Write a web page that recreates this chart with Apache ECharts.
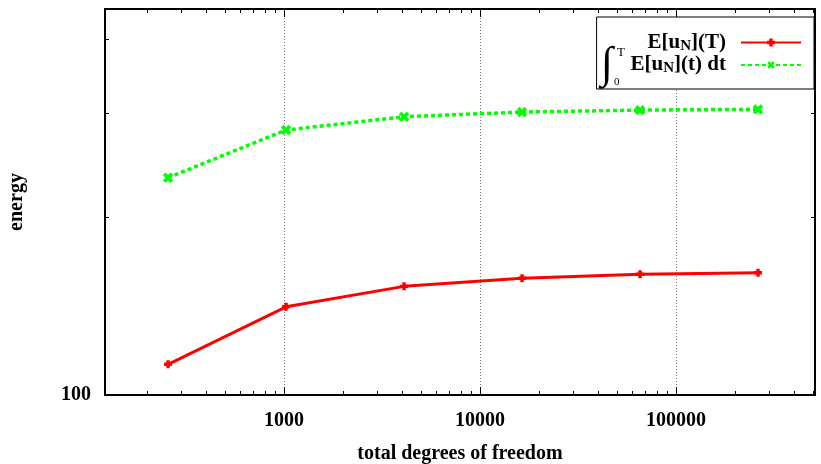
<!DOCTYPE html>
<html>
<head>
<meta charset="utf-8">
<script src="https://cdn.jsdelivr.net/npm/echarts@6/dist/echarts.min.js"></script>
<style>html,body{margin:0;padding:0;background:#fff}#c{width:821px;height:464px}</style>
</head>
<body>
<div id="c"></div>
<script>
// ---- data ----
const dofs = [256, 1024, 4096, 16384, 65536, 262144];
const energyAtT = [112.7, 141.0, 152.7, 157.6, 160.1, 161.0];
const energyIntegral = [233.2, 280.8, 295.7, 301.2, 303.5, 304.4];
const xMajorTicks = [1000, 10000, 100000];
const xMinorTicks = [200,300,400,500,600,700,800,900,2000,3000,4000,5000,6000,7000,8000,9000,
  20000,30000,40000,50000,60000,70000,80000,90000,200000,300000,400000,500000];
const yMajorTicks = [100];
const yMinorTicks = [200, 300, 400];
const xMin = 122, xMax = 512000;
const yMin = 100, yMax = 450;
const xName = 'total degrees of freedom';
const yName = 'energy';
const seriesNames = ['E[u_N](T)', 'int E[u_N](t) dt'];

const FONT = '"Liberation Serif", "Times New Roman", serif';
const chart = echarts.init(document.getElementById('c'), null, {renderer: 'canvas'});

const plusPath = 'path://M2,0H5V2H7V5H5V7H2V5H0V2H2Z';
const crossPath = 'path://M3,0H6V3H9V6H6V9H3V6H0V3H3Z';

function xAxisDef(pos, ticks, len, opts) {
  return Object.assign({
    type: 'log', logBase: 10, min: xMin, max: xMax, position: pos, gridIndex: 0,
    axisLine: {show: false},
    axisTick: {show: true, inside: true, length: len, customValues: ticks, lineStyle: {color: '#000', width: 1}},
    axisLabel: {show: false},
    splitLine: {show: false}
  }, opts || {});
}
function yAxisDef(pos, ticks, len, opts) {
  return Object.assign({
    type: 'log', logBase: 10, min: yMin, max: yMax, position: pos, gridIndex: 0,
    axisLine: {show: false},
    axisTick: {show: true, inside: true, length: len, customValues: ticks, lineStyle: {color: '#000', width: 1}},
    axisLabel: {show: false},
    splitLine: {show: false}
  }, opts || {});
}

const option = {
  animation: false,
  backgroundColor: '#fff',
  grid: {left: 105, right: 6, top: 9, bottom: 69, containLabel: false, outerBoundsMode: 'none',
    show: true, borderColor: '#000', borderWidth: 2, backgroundColor: 'transparent'},
  xAxis: [
    xAxisDef('bottom', xMajorTicks, 8, {
      name: xName, nameLocation: 'middle', nameGap: 49,
      nameTextStyle: {fontFamily: FONT, fontWeight: 'bold', fontSize: 20, color: '#000'},
      axisLabel: {show: true, customValues: xMajorTicks, margin: 16, fontFamily: FONT, fontWeight: 'bold', fontSize: 20, color: '#000',
        formatter: v => String(Math.round(v))},
      splitLine: {show: true, lineStyle: {color: '#777', width: 1, type: [1, 2]}}
    }),
    xAxisDef('bottom', xMinorTicks, 4),
    xAxisDef('top', xMajorTicks, 8),
    xAxisDef('top', xMinorTicks, 4)
  ],
  yAxis: [
    yAxisDef('left', yMajorTicks, 8, {
      name: yName, nameLocation: 'middle', nameGap: 78,
      nameTextStyle: {fontFamily: FONT, fontWeight: 'bold', fontSize: 20, color: '#000'},
      axisLabel: {show: true, customValues: yMajorTicks, margin: 14, fontFamily: FONT, fontWeight: 'bold', fontSize: 20, color: '#000',
        padding: [6, 0, 0, 0], formatter: v => String(Math.round(v))}
    }),
    yAxisDef('left', yMinorTicks, 4),
    yAxisDef('right', yMinorTicks, 4)
  ],
  legend: {
    orient: 'vertical', right: 7, top: 17, align: 'right',
    itemWidth: 60, itemHeight: 10, itemGap: 1,
    padding: [15, 12, 13, 34],
    backgroundColor: '#fff', borderColor: '#000', borderWidth: 1, borderRadius: 0,
    data: seriesNames,
    formatter: function (name) {
      if (name === seriesNames[0]) return '{b|E[u}{sub|N}{b|](T)}{gap|}';
      return '{b|E[u}{sub|N}{b|](t) dt}{gap|}';
    },
    textStyle: {
      fontFamily: FONT, fontWeight: 'bold', fontSize: 21, color: '#000',
      rich: {
        b: {fontFamily: FONT, fontWeight: 'bold', fontSize: 21, lineHeight: 22, color: '#000'},
        sub: {fontFamily: FONT, fontWeight: 'bold', fontSize: 15, lineHeight: 10, verticalAlign: 'bottom', color: '#000'},
        gap: {width: 10}
      }
    }
  },
  graphic: [
    {type: 'text', left: 601, top: 44, z: 100, style: {text: '∫', font: 'bold 44px ' + FONT, fill: '#000'}},
    {type: 'text', left: 617, top: 46, z: 100, style: {text: 'T', font: 'normal 13px ' + FONT, fill: '#000'}},
    {type: 'text', left: 614, top: 77, z: 100, style: {text: '0', font: 'normal 11px ' + FONT, fill: '#000'}}
  ],
  series: [
    {
      name: seriesNames[0], type: 'line', xAxisIndex: 0, yAxisIndex: 0,
      data: dofs.map((x, i) => [x, energyAtT[i]]),
      symbol: plusPath, symbolSize: 8,
      lineStyle: {color: '#ff0000', width: 3},
      itemStyle: {color: '#ff0000'},
      z: 3
    },
    {
      name: seriesNames[1], type: 'line', xAxisIndex: 0, yAxisIndex: 0,
      data: dofs.map((x, i) => [x, energyIntegral[i]]),
      symbol: crossPath, symbolSize: 11, symbolRotate: 45,
      lineStyle: {color: '#00ff00', width: 3.5, type: [4, 3]},
      itemStyle: {color: '#00ff00'},
      z: 3
    }
  ]
};
chart.setOption(option);
</script>
</body>
</html>
